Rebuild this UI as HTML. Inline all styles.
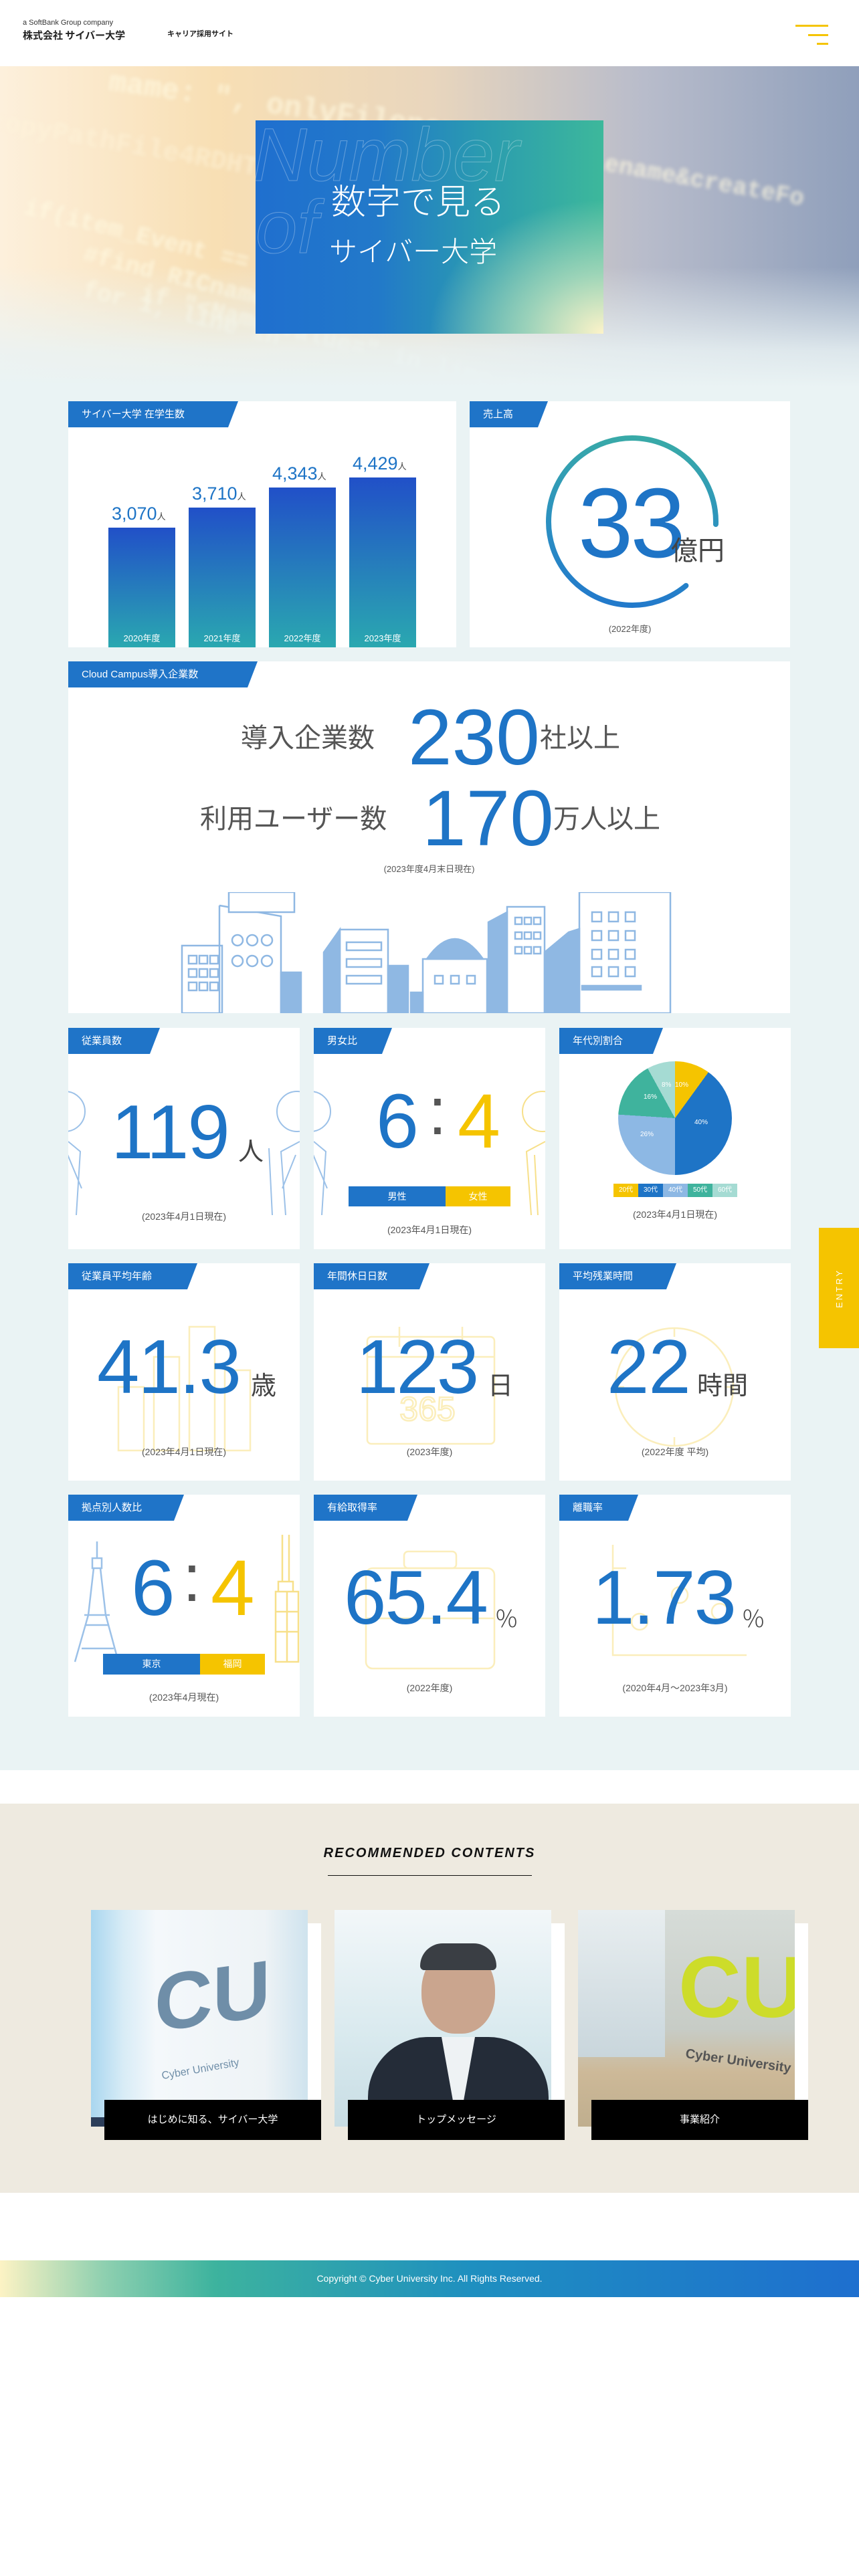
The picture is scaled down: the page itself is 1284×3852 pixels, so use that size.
<!DOCTYPE html>
<html><head><meta charset="utf-8">
<style>
*{margin:0;padding:0;box-sizing:border-box}
body{width:1284px;height:3852px;position:relative;background:#fff;font-family:"Liberation Sans","Noto Sans CJK JP",sans-serif;overflow:hidden}
.a{position:absolute}
.card{position:absolute;background:#fff;overflow:hidden}
.tab{position:absolute;left:0;top:0;height:39px;background:#1f74c8;color:#fff;font-size:15px;line-height:39px;padding-left:20px;clip-path:polygon(0 0,100% 0,calc(100% - 15px) 100%,0 100%);white-space:nowrap}
.num{position:absolute;color:#1e74c6;line-height:1;white-space:nowrap;font-family:"Liberation Sans",sans-serif}
.unit{position:absolute;color:#444;line-height:1;white-space:nowrap;font-family:"Noto Sans CJK JP",sans-serif}
.note{position:absolute;left:0;width:100%;text-align:center;color:#555;font-size:14px;line-height:1}
.y{color:#f5c400}
.c{color:#555}
</style></head><body>

<!-- header -->
<div class="a" style="left:34px;top:28px;font-size:11px;color:#333">a SoftBank Group company</div>
<div class="a" style="left:34px;top:42px;font-size:15px;font-weight:bold;color:#222;font-family:'Noto Sans CJK JP',sans-serif">株式会社 サイバー大学</div>
<div class="a" style="left:250px;top:42px;font-size:11px;font-weight:bold;color:#222;font-family:'Noto Sans CJK JP',sans-serif">キャリア採用サイト</div>
<div class="a" style="left:1189px;top:37px;width:49px;height:3px;background:#f5c400"></div>
<div class="a" style="left:1208px;top:51px;width:30px;height:3px;background:#f5c400"></div>
<div class="a" style="left:1221px;top:64px;width:17px;height:3px;background:#f5c400"></div>

<!-- main bg -->
<div class="a" style="left:0;top:99px;width:1284px;height:2548px;background:#eaf3f4"></div>
<!-- hero -->
<div class="a" style="left:0;top:99px;width:1284px;height:480px;overflow:hidden;background:linear-gradient(90deg,#fdf0dc 0%,#f8dfb4 25%,#e9d6bd 50%,#b8bccb 75%,#8f9fbb 100%)">
  <div class="a" style="left:0;top:0;width:1284px;height:480px;filter:blur(3px);font-family:'Liberation Mono',monospace;font-weight:bold;color:rgba(255,250,225,.7)">
    <div class="a" style="left:160px;top:40px;font-size:44px;transform:rotate(8deg)">mame: ", onlyFilename)</div>
    <div class="a" style="left:-20px;top:100px;font-size:40px;transform:rotate(10deg);color:rgba(255,245,220,.5)">copyPathFile4RDHTDR</div>
    <div class="a" style="left:30px;top:240px;font-size:36px;transform:rotate(14deg)">if(item_Event == "R</div>
    <div class="a" style="left:120px;top:300px;font-size:36px;transform:rotate(14deg)">#find RICname a</div>
    <div class="a" style="left:120px;top:350px;font-size:36px;transform:rotate(14deg)">for i, line in</div>
    <div class="a" style="left:200px;top:400px;font-size:36px;transform:rotate(14deg)">if "&lt;Name value=" in line and (</div>
    <div class="a" style="left:880px;top:150px;font-size:36px;transform:rotate(10deg)">lename&amp;createFo</div>
  </div>
  <div class="a" style="left:0;top:300px;width:1284px;height:180px;background:linear-gradient(180deg,rgba(234,243,244,0),rgba(234,243,244,.85) 70%,#eaf3f4)"></div>
</div>
<div class="a" style="left:382px;top:180px;width:520px;height:319px;background:radial-gradient(ellipse 260px 200px at 100% 100%,#fdf3c9 0%,rgba(180,220,190,.8) 45%,rgba(63,184,155,0) 100%),linear-gradient(90deg,#1f6fcf 0%,#2279c9 35%,#2a9bb0 65%,#3db89b 100%);overflow:hidden">
  <div class="a" style="left:-4px;top:-4px;font-size:112px;font-style:italic;color:transparent;-webkit-text-stroke:1px rgba(255,255,255,.3);line-height:1">Number</div>
  <div class="a" style="left:0;top:104px;font-size:112px;font-style:italic;color:transparent;-webkit-text-stroke:1px rgba(255,255,255,.3);line-height:1">of</div>
  <div class="a" style="left:113px;top:92px;font-size:52px;color:#fff;font-family:'Noto Sans CJK JP',sans-serif;font-weight:300;line-height:1">数字で見る</div>
  <div class="a" style="left:110px;top:173px;font-size:42px;color:#fff;font-family:'Noto Sans CJK JP',sans-serif;font-weight:300;line-height:1">サイバー大学</div>
</div>

<!-- students -->
<div class="card" style="left:102px;top:600px;width:580px;height:368px">
  <div class="tab" style="width:254px">サイバー大学 在学生数</div>
</div>
<div class="a" style="left:162px;top:789px;width:100px;height:179px;background:linear-gradient(180deg,#2150c8,#2aa8b0)"></div>
<div class="a" style="left:282px;top:759px;width:100px;height:209px;background:linear-gradient(180deg,#2150c8,#2aa8b0)"></div>
<div class="a" style="left:402px;top:729px;width:100px;height:239px;background:linear-gradient(180deg,#2150c8,#2aa8b0)"></div>
<div class="a" style="left:522px;top:714px;width:100px;height:254px;background:linear-gradient(180deg,#2150c8,#2aa8b0)"></div>
<div class="a" style="left:162px;top:944px;width:100px;text-align:center;color:#fff;font-size:13px">2020年度</div>
<div class="a" style="left:282px;top:944px;width:100px;text-align:center;color:#fff;font-size:13px">2021年度</div>
<div class="a" style="left:402px;top:944px;width:100px;text-align:center;color:#fff;font-size:13px">2022年度</div>
<div class="a" style="left:522px;top:944px;width:100px;text-align:center;color:#fff;font-size:13px">2023年度</div>
<div class="num" style="left:167px;top:755px;font-size:27px">3,070<span style="font-size:13px;color:#444">人</span></div>
<div class="num" style="left:287px;top:725px;font-size:27px">3,710<span style="font-size:13px;color:#444">人</span></div>
<div class="num" style="left:407px;top:695px;font-size:27px">4,343<span style="font-size:13px;color:#444">人</span></div>
<div class="num" style="left:527px;top:680px;font-size:27px">4,429<span style="font-size:13px;color:#444">人</span></div>

<!-- sales -->
<div class="card" style="left:702px;top:600px;width:479px;height:368px">
  <div class="tab" style="width:117px">売上高</div>
</div>
<svg class="a" style="left:0;top:0" width="1284" height="1000">
  <defs><linearGradient id="cg" x1="0" y1="0" x2="1" y2="1"><stop offset="0" stop-color="#3db39e"/><stop offset=".55" stop-color="#2b8fc2"/><stop offset="1" stop-color="#1e6fcf"/></linearGradient></defs>
  <circle cx="945" cy="780" r="125" fill="none" stroke="url(#cg)" stroke-width="8" stroke-linecap="round" stroke-dasharray="680 200" transform="rotate(50 945 780)"/>
</svg>
<div class="num" style="left:864px;top:709px;font-size:148px;letter-spacing:-4px">33</div>
<div class="unit" style="left:1003px;top:800px;font-size:40px">億円</div>
<div class="a" style="left:702px;top:930px;width:479px;text-align:center;color:#555;font-size:13px">(2022年度)</div>

<!-- cloud campus -->
<div class="card" style="left:102px;top:989px;width:1079px;height:526px">
  <div class="tab" style="width:283px">Cloud Campus導入企業数</div>
  <svg class="a" style="left:168px;top:345px" width="750" height="181" viewBox="0 0 750 181">
    <g fill="#fff" stroke="#8fb8e3" stroke-width="2.5">
      <rect x="2" y="80" width="60" height="101"/>
      <path d="M58 20 L58 181 M58 20 L150 36 L150 181"/>
      <rect x="72" y="0" width="98" height="30"/>
      <rect x="238" y="56" width="72" height="125"/>
      <polygon points="238,56 214,90 214,181 238,181" fill="#8fb8e3"/>
      <rect x="310" y="110" width="30" height="71" fill="#8fb8e3"/>
      <rect x="362" y="100" width="96" height="81"/>
      <path d="M368 100 Q410 40 452 100Z" fill="#8fb8e3"/>
      <rect x="488" y="22" width="56" height="159"/>
      <polygon points="460,45 488,30 488,181 460,181" fill="#8fb8e3"/>
      <rect x="596" y="0" width="136" height="181"/>
      <polygon points="544,90 580,60 596,55 596,181 544,181" fill="#8fb8e3"/>
      <rect x="150" y="120" width="30" height="61" fill="#8fb8e3"/>
      <rect x="344" y="150" width="18" height="31" fill="#8fb8e3"/>
    </g>
    <g fill="none" stroke="#8fb8e3" stroke-width="2.5">
      <rect x="12" y="95" width="12" height="12"/><rect x="28" y="95" width="12" height="12"/><rect x="44" y="95" width="12" height="12"/>
      <rect x="12" y="115" width="12" height="12"/><rect x="28" y="115" width="12" height="12"/><rect x="44" y="115" width="12" height="12"/>
      <rect x="12" y="135" width="12" height="12"/><rect x="28" y="135" width="12" height="12"/><rect x="44" y="135" width="12" height="12"/>
      <circle cx="85" cy="72" r="8"/><circle cx="107" cy="72" r="8"/><circle cx="129" cy="72" r="8"/>
      <circle cx="85" cy="103" r="8"/><circle cx="107" cy="103" r="8"/><circle cx="129" cy="103" r="8"/>
      <rect x="248" y="75" width="52" height="12"/><rect x="248" y="100" width="52" height="12"/><rect x="248" y="125" width="52" height="12"/>
      <rect x="380" y="125" width="12" height="12"/><rect x="404" y="125" width="12" height="12"/><rect x="428" y="125" width="12" height="12"/>
      <rect x="500" y="38" width="10" height="10"/><rect x="514" y="38" width="10" height="10"/><rect x="528" y="38" width="10" height="10"/>
      <rect x="500" y="60" width="10" height="10"/><rect x="514" y="60" width="10" height="10"/><rect x="528" y="60" width="10" height="10"/>
      <rect x="500" y="82" width="10" height="10"/><rect x="514" y="82" width="10" height="10"/><rect x="528" y="82" width="10" height="10"/>
      <rect x="615" y="30" width="14" height="14"/><rect x="640" y="30" width="14" height="14"/><rect x="665" y="30" width="14" height="14"/>
      <rect x="615" y="58" width="14" height="14"/><rect x="640" y="58" width="14" height="14"/><rect x="665" y="58" width="14" height="14"/>
      <rect x="615" y="86" width="14" height="14"/><rect x="640" y="86" width="14" height="14"/><rect x="665" y="86" width="14" height="14"/>
      <rect x="615" y="112" width="14" height="14"/><rect x="640" y="112" width="14" height="14"/><rect x="665" y="112" width="14" height="14"/>
      <rect x="600" y="140" width="88" height="6" fill="#8fb8e3"/>
    </g>
  </svg>
</div>
<div class="unit" style="left:360px;top:1080px;font-size:40px;color:#555">導入企業数</div>
<div class="num" style="left:610px;top:1044px;font-size:118px">230</div>
<div class="unit" style="left:807px;top:1080px;font-size:40px;color:#555">社以上</div>
<div class="unit" style="left:299px;top:1201px;font-size:40px;color:#555">利用ユーザー数</div>
<div class="num" style="left:631px;top:1165px;font-size:118px">170</div>
<div class="unit" style="left:827px;top:1201px;font-size:40px;color:#555">万人以上</div>
<div class="a" style="left:102px;top:1289px;width:1079px;text-align:center;color:#555;font-size:13px">(2023年度4月末日現在)</div>

<!-- row 1 -->
<div class="card" style="left:102px;top:1537px;width:346px;height:331px">
  <svg class="a" style="left:0;top:40px" width="346" height="240" fill="none" stroke="#9cc1e8" stroke-width="2">
    <circle cx="-5" cy="85" r="30"/><path d="M0 130 L18 145 L12 240 M-5 140 L20 200"/>
    <circle cx="342" cy="85" r="30"/><path d="M346 130 L318 145 L325 240 M300 140 L305 240 M340 150 L320 200"/>
  </svg>
  <div class="tab" style="width:137px">従業員数</div>
  <div class="note" style="top:275px">(2023年4月1日現在)</div>
</div>
<div class="num" style="left:166px;top:1637px;font-size:114px;letter-spacing:-2px">119</div>
<div class="unit" style="left:356px;top:1700px;font-size:38px">人</div>

<div class="card" style="left:469px;top:1537px;width:346px;height:331px">
  <svg class="a" style="left:0;top:40px" width="346" height="240" fill="none" stroke-width="2">
    <g stroke="#9cc1e8"><circle cx="-5" cy="85" r="30"/><path d="M0 130 L18 145 L12 240 M-5 140 L20 200"/></g>
    <g stroke="#f7e08a"><circle cx="342" cy="85" r="30"/><path d="M346 130 L318 145 L325 240 M330 150 L335 240"/></g>
  </svg>
  <div class="tab" style="width:117px">男女比</div>
  <div class="a" style="left:52px;top:237px;width:145px;height:30px;background:#1f74c8;color:#fff;font-size:14px;text-align:center;line-height:30px">男性</div>
  <div class="a" style="left:197px;top:237px;width:97px;height:30px;background:#f5c400;color:#fff;font-size:14px;text-align:center;line-height:30px">女性</div>
  <div class="note" style="top:295px">(2023年4月1日現在)</div>
</div>
<div class="num" style="left:562px;top:1620px;font-size:115px">6</div>
<div class="num c" style="left:640px;top:1612px;font-size:100px;color:#555">:</div>
<div class="num y" style="left:684px;top:1620px;font-size:115px">4</div>

<div class="card" style="left:836px;top:1537px;width:346px;height:331px">
  <div class="tab" style="width:155px">年代別割合</div>
  <div class="a" style="left:88px;top:50px;width:170px;height:170px;border-radius:50%;background:conic-gradient(#f5c400 0 36deg,#1e74c6 36deg 180deg,#8db8e4 180deg 273.6deg,#3fb39d 273.6deg 331.2deg,#a5dbd3 331.2deg 360deg)"></div>
  <div class="a" style="left:202px;top:136px;font-size:10px;color:#fff">40%</div>
  <div class="a" style="left:121px;top:154px;font-size:10px;color:#fff">26%</div>
  <div class="a" style="left:126px;top:98px;font-size:10px;color:#fff">16%</div>
  <div class="a" style="left:153px;top:80px;font-size:10px;color:#fff">8%</div>
  <div class="a" style="left:173px;top:80px;font-size:10px;color:#fff">10%</div>
  <div class="a" style="left:81px;top:233px;display:flex;font-size:10px;color:#fff;line-height:20px;text-align:center">
    <div style="width:37px;background:#f5c400">20代</div><div style="width:37px;background:#1e74c6">30代</div><div style="width:37px;background:#8db8e4">40代</div><div style="width:37px;background:#3fb39d">50代</div><div style="width:37px;background:#a5dbd3">60代</div>
  </div>
  <div class="note" style="top:272px">(2023年4月1日現在)</div>
</div>

<!-- row 2 -->
<div class="card" style="left:102px;top:1889px;width:346px;height:325px">
  <svg class="a" style="left:0;top:0" width="346" height="325" fill="none" stroke="#fbeebb" stroke-width="2.5">
    <rect x="75" y="185" width="38" height="95"/><rect x="128" y="140" width="38" height="140"/><rect x="181" y="95" width="38" height="185"/><rect x="234" y="160" width="38" height="120"/>
  </svg>
  <div class="tab" style="width:193px">従業員平均年齢</div>
  <div class="note" style="top:275px">(2023年4月1日現在)</div>
</div>
<div class="num" style="left:145px;top:1988px;font-size:114px;letter-spacing:-2px">41.3</div>
<div class="unit" style="left:375px;top:2050px;font-size:38px">歳</div>

<div class="card" style="left:469px;top:1889px;width:346px;height:325px">
  <svg class="a" style="left:0;top:0" width="346" height="325" fill="none" stroke="#fbeebb" stroke-width="2.5">
    <rect x="80" y="110" width="190" height="160" rx="6"/><path d="M80 140 H270 M128 95 V125 M222 95 V125"/>
    <text x="170" y="235" font-size="50" text-anchor="middle" fill="none" stroke="#fbeebb" font-family="Liberation Sans">365</text>
  </svg>
  <div class="tab" style="width:173px">年間休日日数</div>
  <div class="note" style="top:275px">(2023年度)</div>
</div>
<div class="num" style="left:532px;top:1988px;font-size:114px;letter-spacing:-3px">123</div>
<div class="unit" style="left:729px;top:2050px;font-size:38px">日</div>

<div class="card" style="left:836px;top:1889px;width:346px;height:325px">
  <svg class="a" style="left:0;top:0" width="346" height="325" fill="none" stroke="#fbeebb" stroke-width="2.5">
    <circle cx="172" cy="185" r="88"/><path d="M172 97 V110 M172 260 V273 M84 185 H97 M247 185 H260"/>
  </svg>
  <div class="tab" style="width:175px">平均残業時間</div>
  <div class="note" style="top:275px">(2022年度 平均)</div>
</div>
<div class="num" style="left:907px;top:1988px;font-size:114px;letter-spacing:-1px">22</div>
<div class="unit" style="left:1042px;top:2050px;font-size:38px">時間</div>

<!-- row 3 -->
<div class="card" style="left:102px;top:2235px;width:346px;height:332px">
  <svg class="a" style="left:0;top:0" width="346" height="332" fill="none" stroke-width="2.5">
    <g stroke="#9cc1e8"><path d="M43 70 V95 M36 95 H50 V110 H36Z M38 110 L30 180 M48 110 L56 180 M24 180 H62 M26 195 H60 M30 180 L10 250 M56 180 L75 250 M20 230 H68"/></g>
    <g stroke="#f7e08a"><path d="M320 60 V130 M330 60 V130 M314 130 H336 V145 H314Z M310 145 H344 V250 H310Z M310 175 H344 M310 205 H344 M327 145 V250"/></g>
  </svg>
  <div class="tab" style="width:173px">拠点別人数比</div>
  <div class="a" style="left:52px;top:238px;width:145px;height:31px;background:#1f74c8;color:#fff;font-size:14px;text-align:center;line-height:31px">東京</div>
  <div class="a" style="left:197px;top:238px;width:97px;height:31px;background:#f5c400;color:#fff;font-size:14px;text-align:center;line-height:31px">福岡</div>
  <div class="note" style="top:296px">(2023年4月現在)</div>
</div>
<div class="num" style="left:196px;top:2316px;font-size:118px">6</div>
<div class="num" style="left:273px;top:2310px;font-size:100px;color:#555">:</div>
<div class="num y" style="left:315px;top:2316px;font-size:118px">4</div>

<div class="card" style="left:469px;top:2235px;width:346px;height:332px">
  <svg class="a" style="left:0;top:0" width="346" height="332" fill="none" stroke="#fbeebb" stroke-width="2.5">
    <rect x="78" y="110" width="192" height="150" rx="10"/><rect x="135" y="85" width="78" height="25" rx="6"/><path d="M78 185 H270"/>
  </svg>
  <div class="tab" style="width:155px">有給取得率</div>
  <div class="note" style="top:282px">(2022年度)</div>
</div>
<div class="num" style="left:514px;top:2333px;font-size:114px;letter-spacing:-2px">65.4</div>
<div class="unit" style="left:741px;top:2400px;font-size:36px;font-weight:300">%</div>

<div class="card" style="left:836px;top:2235px;width:346px;height:332px">
  <svg class="a" style="left:0;top:0" width="346" height="332" fill="none" stroke="#fbeebb" stroke-width="2.5">
    <path d="M80 75 V240 H280 M80 110 H100"/><circle cx="120" cy="190" r="12"/><circle cx="180" cy="150" r="12"/><circle cx="240" cy="175" r="12"/>
  </svg>
  <div class="tab" style="width:118px">離職率</div>
  <div class="note" style="top:282px">(2020年4月～2023年3月)</div>
</div>
<div class="num" style="left:885px;top:2333px;font-size:114px;letter-spacing:-2px">1.73</div>
<div class="unit" style="left:1110px;top:2400px;font-size:36px;font-weight:300">%</div>

<!-- entry -->
<div class="a" style="left:1224px;top:1836px;width:60px;height:180px;background:#f5c400"></div>
<div class="a" style="left:1224px;top:1836px;width:60px;height:180px;display:flex;align-items:center;justify-content:center"><div style="transform:rotate(-90deg);color:#fff;font-size:13px;letter-spacing:3px">ENTRY</div></div>

<!-- recommended -->
<div class="a" style="left:0;top:2697px;width:1284px;height:582px;background:#eeeae0"></div>
<div class="a" style="left:0;top:2760px;width:1284px;text-align:center;font-size:20px;font-weight:bold;font-style:italic;letter-spacing:2px;color:#111">RECOMMENDED CONTENTS</div>
<div class="a" style="left:490px;top:2804px;width:305px;height:1px;background:#111"></div>

<div class="a" style="left:156px;top:2876px;width:324px;height:324px;background:#fff"></div>
<div class="a" style="left:136px;top:2856px;width:324px;height:324px;overflow:hidden;background:linear-gradient(90deg,#a9d6ef 0%,#d8ecf6 15%,#f4f8fb 30%,#eef3f6 80%,#cfe3ee 100%)">
  <div class="a" style="left:95px;top:60px;font-size:120px;font-weight:bold;color:#6f8ea8;font-family:'Liberation Sans';transform:skewY(-8deg)">CU</div>
  <div class="a" style="left:105px;top:230px;font-size:16px;color:#6f8ea8;transform:rotate(-10deg)">Cyber University</div>
  <div class="a" style="left:0;top:310px;width:70px;height:50px;background:#2c3e5a"></div>
</div>
<div class="a" style="left:156px;top:3140px;width:324px;height:60px;background:#000;color:#fff;font-size:15px;text-align:center;line-height:60px">はじめに知る、サイバー大学</div>

<div class="a" style="left:520px;top:2876px;width:324px;height:324px;background:#fff"></div>
<div class="a" style="left:500px;top:2856px;width:324px;height:324px;overflow:hidden;background:linear-gradient(180deg,#f2f7f9,#d8e9ee 60%,#c8dde4)">
  <div class="a" style="left:130px;top:55px;width:110px;height:130px;border-radius:50% 50% 45% 45%;background:#caa58e"></div>
  <div class="a" style="left:128px;top:50px;width:114px;height:40px;border-radius:55px 55px 10px 10px;background:#3a3e44"></div>
  <div class="a" style="left:50px;top:190px;width:270px;height:180px;border-radius:90px 90px 0 0;background:#242c38"></div>
  <div class="a" style="left:160px;top:190px;width:50px;height:140px;background:#eef2f4;clip-path:polygon(0 0,100% 0,50% 100%)"></div>
</div>
<div class="a" style="left:520px;top:3140px;width:324px;height:60px;background:#000;color:#fff;font-size:15px;text-align:center;line-height:60px">トップメッセージ</div>

<div class="a" style="left:884px;top:2876px;width:324px;height:324px;background:#fff"></div>
<div class="a" style="left:864px;top:2856px;width:324px;height:324px;overflow:hidden;background:linear-gradient(180deg,#d6dcd8 0%,#c7ccc6 55%,#cdb998 75%,#bfae8e 100%)">
  <div class="a" style="left:0;top:0;width:130px;height:220px;background:linear-gradient(180deg,#e8eef0,#c9d6dc)"></div>
  <div class="a" style="left:150px;top:40px;font-size:130px;font-weight:bold;color:#cddc2a;font-family:'Liberation Sans'">CU</div>
  <div class="a" style="left:160px;top:215px;font-size:20px;font-weight:bold;color:#555;transform:rotate(8deg)">Cyber University</div>
</div>
<div class="a" style="left:884px;top:3140px;width:324px;height:60px;background:#000;color:#fff;font-size:15px;text-align:center;line-height:60px">事業紹介</div>

<!-- footer -->
<div class="a" style="left:0;top:3380px;width:1284px;height:55px;background:linear-gradient(90deg,#fdf3c4 0%,#8fd0b0 12%,#3db39e 25%,#1e8fc0 55%,#1e6fcf 100%);color:#fff;font-size:14px;text-align:center;line-height:55px">Copyright © Cyber University Inc. All Rights Reserved.</div>
</body></html>
